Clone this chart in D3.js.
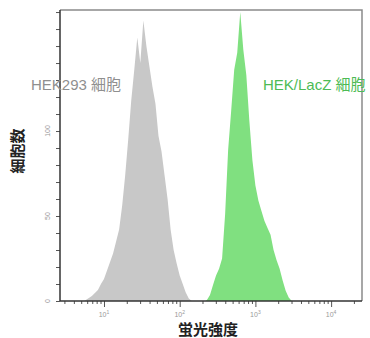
<!DOCTYPE html>
<html>
<head>
<meta charset="utf-8">
<script src="https://cdn.jsdelivr.net/npm/d3@7"></script>
<style>
  body { margin: 0; background: #fff; }
  svg { display: block; }
</style>
</head>
<body>
<svg id="grafico" width="370" height="338"></svg>
<script>
// histogram bins, log10 of fluorescence, 0.04 decade per bin
var larguraBin = 0.04;
var inicioCinza = 0.76;
var contagemCinza = [0.6, 1.8, 2.9, 4.7, 6.5, 10, 13, 18, 23, 28, 35, 42, 56, 74, 95, 118, 136, 155,
    140, 165, 150, 138, 126, 116, 97, 88, 74, 60, 42, 30, 22, 15, 10, 5, 1.5];
var inicioVerde = 2.36;
var contagemVerde = [0.6, 3.5, 9.4, 15, 19, 25, 51, 89, 112, 136, 146, 170, 148, 133, 106, 83, 68,
    59, 53, 47, 43, 39, 30, 24, 19, 12, 6, 2];

var ticksMaioresX = [1e1, 1e2, 1e3, 1e4];
var expoentesX = ["1", "2", "3", "4"];
var ticksY = [0, 10, 20, 30, 40, 50, 60, 70, 80, 90, 100, 110, 120, 130, 140, 150, 160, 170];
var rotulosY = [0, 50, 100];

var rotulos = [
    { texto: "HEK293 細胞", cor: "#8f8f8f", pos: "end" },
    { texto: "HEK/LacZ 細胞", cor: "#4dbb55", pos: "start" }
];

var svg = d3.select("#grafico");
var esq = 60, dir = 362, topo = 10, base = 301;

var x = d3.scaleLog()
    .domain([Math.pow(10, 0.419), Math.pow(10, 4.408)])
    .range([esq, dir]);
var y = d3.scaleLinear().domain([0, 171.2]).range([base, topo]);

function paraPontos(inicio, contagens) {
    var pts = [{ lx: inicio - larguraBin / 2, c: 0 }];
    contagens.forEach(function (c, i) {
        pts.push({ lx: inicio + i * larguraBin, c: c });
    });
    pts.push({ lx: inicio + contagens.length * larguraBin, c: 0 });
    return pts;
}

var area = d3.area()
    .x(function (d) { return x(Math.pow(10, d.lx)); })
    .y0(base)
    .y1(function (d) { return y(d.c); });

svg.append("path")
    .datum(paraPontos(inicioCinza, contagemCinza))
    .attr("d", area)
    .attr("fill", "#c8c8c8");

svg.append("path")
    .datum(paraPontos(inicioVerde, contagemVerde))
    .attr("d", area)
    .attr("fill", "#80e080");

// moldura cinza (topo e direita)
svg.append("path")
    .attr("d", "M" + esq + "," + topo + "H" + dir + "V" + base)
    .attr("fill", "none")
    .attr("stroke", "#8a8a8a")
    .attr("stroke-width", 1.5);

// eixo x
var ticksMenoresX = [];
[1, 10, 100, 1000, 10000].forEach(function (dec) {
    for (var k = 2; k <= 9; k++) {
        var v = dec * k;
        if (v > x.domain()[0] && v < x.domain()[1]) ticksMenoresX.push(v);
    }
});

var gx = svg.append("g").attr("transform", "translate(0," + base + ")");
gx.append("g").call(d3.axisBottom(x).tickValues(ticksMenoresX).tickSize(3).tickFormat(""));
gx.append("g").call(d3.axisBottom(x).tickValues(ticksMaioresX).tickSize(6).tickFormat(""));
gx.selectAll(".domain").remove();
gx.selectAll("line").attr("stroke", "#555");
gx.append("line").attr("x1", esq).attr("x2", dir).attr("stroke", "#333").attr("stroke-width", 1.5);

var rotX = gx.selectAll("text.rx")
    .data(ticksMaioresX)
    .enter()
    .append("text")
    .attr("class", "rx")
    .attr("x", function (d) { return x(d); })
    .attr("y", 16)
    .attr("text-anchor", "middle")
    .attr("fill", "#999")
    .style("font-family", "Liberation Sans, Arial, sans-serif")
    .style("font-size", "7px");
rotX.append("tspan").text("10");
rotX.append("tspan")
    .attr("dy", -3)
    .style("font-size", "5px")
    .text(function (d, i) { return expoentesX[i]; });

// eixo y
var gy = svg.append("g").attr("transform", "translate(" + esq + ",0)");
gy.append("g").call(d3.axisLeft(y)
    .tickValues(ticksY)
    .tickSize(4)
    .tickFormat(""));
gy.selectAll(".domain").remove();
gy.selectAll("line").attr("stroke", "#555");
gy.append("line").attr("y1", topo).attr("y2", base).attr("stroke", "#333").attr("stroke-width", 1.5);

gy.selectAll("text.ry")
    .data(rotulosY)
    .enter()
    .append("text")
    .attr("class", "ry")
    .attr("transform", function (d) { return "translate(-10," + y(d) + ") rotate(-90)"; })
    .attr("text-anchor", "middle")
    .attr("fill", "#999")
    .style("font-family", "Liberation Sans, Arial, sans-serif")
    .style("font-size", "7px")
    .text(function (d) { return d; });

// títulos dos eixos
svg.append("text")
    .attr("transform", "translate(23,151) rotate(-90)")
    .attr("text-anchor", "middle")
    .attr("fill", "#222")
    .style("font-family", "Noto Sans CJK JP")
    .style("font-size", "15px")
    .style("font-weight", "bold")
    .text("細胞数");

svg.append("text")
    .attr("x", 208)
    .attr("y", 335)
    .attr("text-anchor", "middle")
    .attr("fill", "#222")
    .style("font-family", "Noto Sans CJK JP")
    .style("font-size", "15px")
    .style("font-weight", "bold")
    .text("蛍光強度");

// rótulos das séries
svg.selectAll("text.serie")
    .data(rotulos)
    .enter()
    .append("text")
    .attr("class", "serie")
    .attr("x", function (d) { return d.pos === "end" ? 121 : 263; })
    .attr("y", 90)
    .attr("text-anchor", function (d) { return d.pos; })
    .attr("fill", function (d) { return d.cor; })
    .style("font-family", "Liberation Sans, Arial, 'Noto Sans CJK JP', sans-serif")
    .style("font-size", "15px")
    .text(function (d) { return d.texto; });
</script>
</body>
</html>
